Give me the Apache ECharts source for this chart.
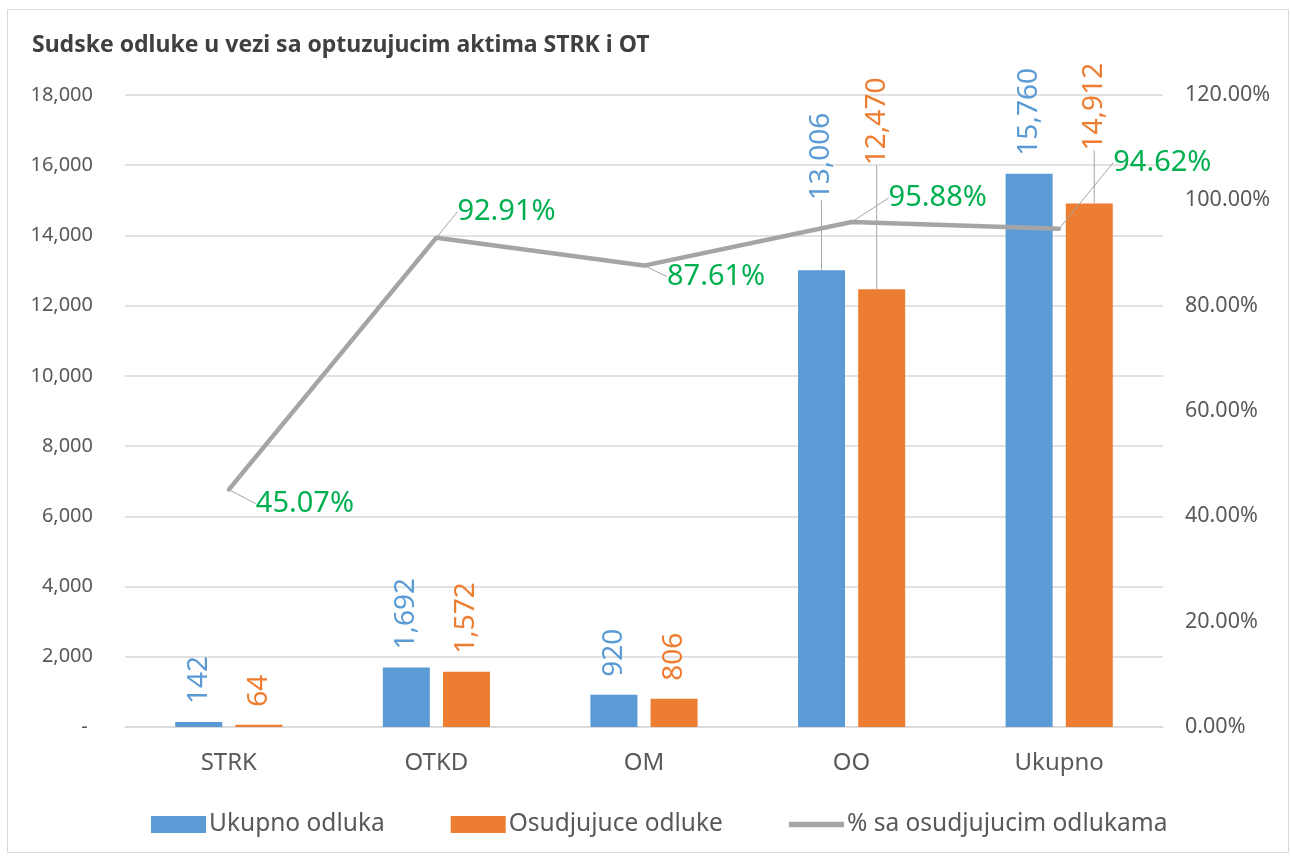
<!DOCTYPE html>
<html>
<head>
<meta charset="utf-8">
<script src="https://cdn.jsdelivr.net/npm/echarts@6/dist/echarts.min.js"></script>
<style>
    html, body { margin: 0; padding: 0; background: #fff; }
    #chart { width: 1291px; height: 856px; }
</style>
</head>
<body>
<div id="chart"></div>
<script>
var categories = ['STRK', 'OTKD', 'OM', 'OO', 'Ukupno'];
var ukupnoOdluka = [142, 1692, 920, 13006, 15760];
var osudjujuceOdluke = [64, 1572, 806, 12470, 14912];
var procenatOsudjujucih = [45.07, 92.91, 87.61, 95.88, 94.62];

var leftTicks = {min: 0, max: 18000, interval: 2000};
var rightTicks = {min: 0, max: 120, interval: 20};

// pomeranje labela na ekranu [x, y] (kao rucno pomerene u Excelu)
var barLabelShift = {
    0: [[0, 0], [0, 0], [0, 0], [0, -52], [0, 0]],
    1: [[0, 0], [0, 0], [0, 0], [-5, -106], [5, -35]]
};
var lineLabelOffset = [[27, 14], [21, -26], [23, 11], [37, -24], [54, -66]];

var FONT = '"Noto Sans", sans-serif';
var GREY_TEXT = '#595959';
var LEADER = {color: '#A6A6A6', width: 1};

var chart = echarts.init(document.getElementById('chart'));

var barData = function (values, seriesIndex) {
    return values.map(function (v, i) {
        var s = barLabelShift[seriesIndex][i];
        return {value: v, labelLine: {show: s[0] !== 0 || s[1] !== 0, lineStyle: LEADER}};
    });
};

var barLabel = function (color) {
    return {
        show: true,
        position: 'top',
        distance: 18,
        rotate: 90,
        align: 'left',
        verticalAlign: 'middle',
        color: color,
        fontFamily: FONT,
        fontSize: 28,
        formatter: function (p) {
            return p.value.toLocaleString('en-US');
        }
    };
};

// offset se primenjuje u rotiranom sistemu labele (90 stepeni)
var barLayout = function (params) {
    var s = barLabelShift[params.seriesIndex][params.dataIndex];
    return {dx: -s[1], dy: s[0]};
};

chart.setOption({
    animation: false,
    backgroundColor: '#fff',
    textStyle: {fontFamily: FONT},
    title: {
        text: 'Sudske odluke u vezi sa optuzujucim aktima STRK i OT',
        left: 27,
        top: 29,
        textStyle: {
            fontFamily: FONT,
            fontSize: 23,
            fontWeight: 'bold',
            color: '#404040'
        }
    },
    graphic: [{
        type: 'rect',
        left: 5,
        top: 7,
        shape: {width: 1281, height: 843},
        style: {fill: 'none', stroke: '#D9D9D9', lineWidth: 1},
        silent: true
    }],
    grid: {
        left: 125,
        right: 128,
        top: 95,
        bottom: 129
    },
    legend: {
        left: 146,
        top: 807,
        itemWidth: 55,
        itemHeight: 17,
        itemGap: 66,
        textStyle: {color: GREY_TEXT, fontSize: 24.5, fontFamily: FONT, padding: [0, 0, 0, -2]},
        data: [
            {name: 'Ukupno odluka', icon: 'rect'},
            {name: 'Osudjujuce odluke', icon: 'rect'},
            {name: '% sa osudjujucim odlukama', icon: 'path://M0,0L10,0L10,1L0,1Z', lineStyle: {width: 6, cap: 'round'}}
        ]
    },
    xAxis: {
        type: 'category',
        data: categories,
        axisTick: {show: false},
        axisLine: {lineStyle: {color: '#D9D9D9', width: 1.5}},
        axisLabel: {color: GREY_TEXT, fontSize: 24, margin: 24, fontFamily: FONT}
    },
    yAxis: [{
        type: 'value',
        min: leftTicks.min,
        max: leftTicks.max,
        interval: leftTicks.interval,
        axisLine: {show: false},
        axisTick: {show: false},
        splitLine: {lineStyle: {color: '#D9D9D9', width: 1.5}},
        axisLabel: {
            color: GREY_TEXT,
            fontSize: 20,
            margin: 32,
            fontFamily: FONT,
            formatter: function (v) {
                return v === 0 ? '- ' : v.toLocaleString('en-US');
            }
        }
    }, {
        type: 'value',
        min: rightTicks.min,
        max: rightTicks.max,
        interval: rightTicks.interval,
        axisLine: {show: false},
        axisTick: {show: false},
        splitLine: {show: false},
        axisLabel: {
            color: GREY_TEXT,
            fontSize: 21.5,
            margin: 22,
            fontFamily: FONT,
            formatter: function (v) {
                return v.toFixed(2) + '%';
            }
        }
    }],
    series: [{
        name: 'Ukupno odluka',
        type: 'bar',
        data: barData(ukupnoOdluka, 0),
        barWidth: 47,
        barGap: '28%',
        itemStyle: {color: '#5B9BD5'},
        label: barLabel('#5B9BD5'),
        labelLayout: barLayout
    }, {
        name: 'Osudjujuce odluke',
        type: 'bar',
        data: barData(osudjujuceOdluke, 1),
        barWidth: 47,
        barGap: '28%',
        itemStyle: {color: '#ED7D31'},
        label: barLabel('#ED7D31'),
        labelLayout: barLayout
    }, {
        name: '% sa osudjujucim odlukama',
        type: 'line',
        yAxisIndex: 1,
        data: procenatOsudjujucih,
        symbol: 'circle',
        symbolSize: 4,
        itemStyle: {color: '#A5A5A5'},
        lineStyle: {color: '#A5A5A5', width: 4.5},
        label: {
            show: true,
            color: '#00B050',
            fontSize: 29,
            fontFamily: FONT,
            formatter: function (p) {
                return p.value.toFixed(2) + '%';
            }
        },
        labelLine: {show: true, lineStyle: LEADER},
        labelLayout: function (params) {
            var o = lineLabelOffset[params.dataIndex];
            var r = params.rect;
            return {
                x: r.x + r.width / 2 + o[0],
                y: r.y + r.height / 2 + o[1],
                align: 'left',
                verticalAlign: 'middle'
            };
        }
    }]
});
</script>
</body>
</html>
